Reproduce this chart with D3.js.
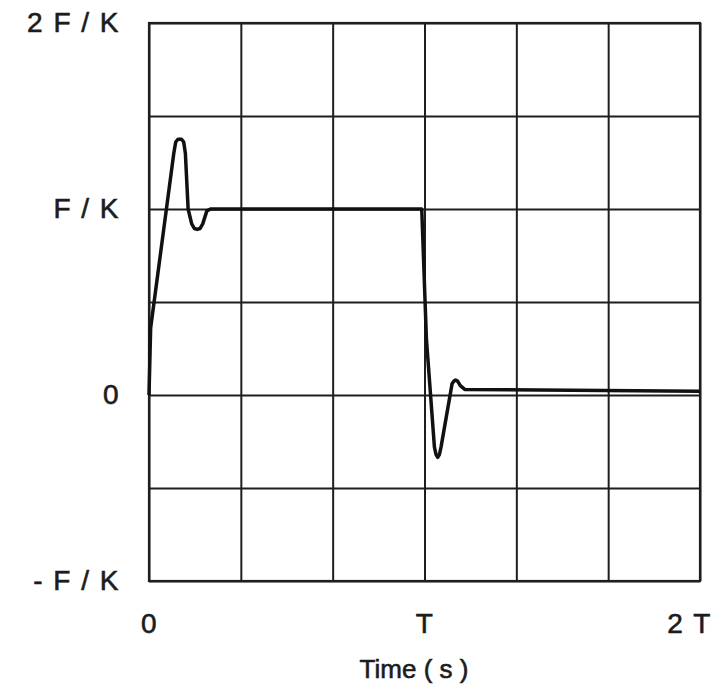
<!DOCTYPE html>
<html lang="en">
<head>
    <meta charset="UTF-8">
    <title>Step response</title>
    <script src="https://cdn.jsdelivr.net/npm/d3@7"></script>
    <style>
        body { margin: 0; background: #fff; }
        text { font-family: "Liberation Sans", Arial, sans-serif; fill: #1c1c1c; stroke: #1c1c1c; stroke-width: 0.6px; }
    </style>
</head>
<body>
<script>
    // time in units of T, response in units of F/K
    var timeT = [0, 0.006, 0.09, 0.097, 0.105, 0.118, 0.126, 0.132, 0.142, 0.155, 0.165, 0.175,
                 0.185, 0.195, 0.21, 0.223, 0.99, 1.007, 1.036, 1.042, 1.048, 1.054, 1.06,
                 1.10, 1.107, 1.113, 1.12, 1.13, 1.146, 2];
    var response = [0, 0.36, 1.30, 1.36, 1.375, 1.375, 1.36, 1.30, 1.0, 0.92, 0.895, 0.89,
                    0.895, 0.92, 0.99, 1.0, 1.0, 0.30, -0.28, -0.32, -0.335, -0.32, -0.28,
                    0.06, 0.075, 0.08, 0.075, 0.05, 0.03, 0.02];

    var xTickValues = [0, 1, 2];
    var xTickLabels = ['0', 'T', '2 T'];
    var yTickValues = [-1, 0, 1, 2];
    var yTickLabels = ['- F / K', '0', 'F / K', '2 F / K'];

    var margin = {top: 23, left: 149};
    var width = 551, height = 558;

    var svg = d3.select('body').append('svg')
            .attr('width', 719)
            .attr('height', 690);
    var g = svg.append('g')
            .attr('transform', 'translate(' + margin.left + ',' + margin.top + ')');

    var x = d3.scaleLinear().domain([0, 2]).range([0, width]);
    var y = d3.scaleLinear().domain([-1, 2]).range([height, 0]);

    // grid: every T/3 across, every F/(2K) up
    var xGrid = d3.axisBottom(x).tickValues(d3.range(0, 7).map(function(i) { return i / 3; }))
            .tickSize(-height).tickFormat('');
    var yGrid = d3.axisLeft(y).tickValues(d3.range(0, 7).map(function(i) { return -1 + i / 2; }))
            .tickSize(-width).tickFormat('');

    g.append('g').attr('transform', 'translate(0,' + height + ')').call(xGrid);
    g.append('g').call(yGrid);
    g.selectAll('.domain').remove();
    g.selectAll('.tick line').attr('stroke', '#1e1e1e').attr('stroke-width', 2);

    g.append('rect')
            .attr('width', width).attr('height', height)
            .attr('fill', 'none').attr('stroke', '#1e1e1e').attr('stroke-width', 2.2);

    // labels
    var xAxis = g.append('g')
            .attr('transform', 'translate(0,' + height + ')')
            .call(d3.axisBottom(x).tickValues(xTickValues).tickSize(0).tickPadding(32)
                .tickFormat(function(d, i) { return xTickLabels[i]; }));
    var yAxis = g.append('g')
            .call(d3.axisLeft(y).tickValues(yTickValues).tickSize(0).tickPadding(29)
                .tickFormat(function(d, i) { return yTickLabels[i]; }));
    [xAxis, yAxis].forEach(function(a) {
        a.select('.domain').remove();
        a.selectAll('text').attr('font-size', 28).attr('font-family', null)
            .attr('fill', '#1c1c1c').attr('letter-spacing', '1.5px');
    });
    xAxis.selectAll('text').filter(function(d) { return d === 2; }).attr('dx', -11);

    svg.append('text')
            .attr('x', 414).attr('y', 678)
            .attr('text-anchor', 'middle')
            .attr('font-size', 26)
            .text('Time ( s )');

    var line = d3.line()
            .x(function(d, i) { return x(timeT[i]); })
            .y(function(d) { return y(d); });

    g.append('path')
            .datum(response)
            .attr('d', line)
            .attr('fill', 'none')
            .attr('stroke', '#111')
            .attr('stroke-width', 3.5)
            .attr('stroke-linejoin', 'round');
</script>
</body>
</html>
